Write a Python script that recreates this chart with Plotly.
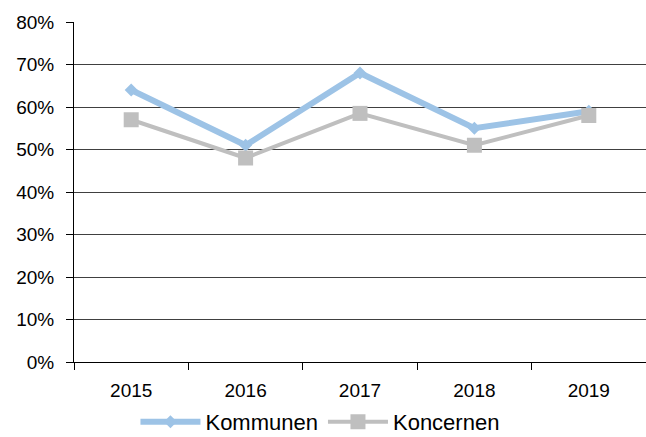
import plotly.graph_objects as go

years = ["2015", "2016", "2017", "2018", "2019"]
kommunen = [0.64, 0.51, 0.68, 0.55, 0.59]
koncernen = [0.57, 0.48, 0.585, 0.51, 0.58]
y_ticks = [0, 0.1, 0.2, 0.3, 0.4, 0.5, 0.6, 0.7, 0.8]
y_labels = ["0%", "10%", "20%", "30%", "40%", "50%", "60%", "70%", "80%"]

fig = go.Figure()
fig.add_trace(go.Scatter(
    x=years, y=kommunen, name="Kommunen", mode="lines+markers",
    line=dict(color="#9DC3E6", width=6),
    marker=dict(symbol="diamond", size=10, color="#9DC3E6"),
))
fig.add_trace(go.Scatter(
    x=years, y=koncernen, name="Koncernen", mode="lines+markers",
    line=dict(color="#BFBFBF", width=4),
    marker=dict(symbol="square", size=15, color="#BFBFBF"),
))

fig.update_layout(
    width=646, height=437,
    margin=dict(l=74, r=0, t=22, b=75, autoexpand=False),
    paper_bgcolor="white", plot_bgcolor="white",
    font=dict(family="Liberation Sans, Arial, sans-serif", size=19, color="#000000"),
    showlegend=True,
    legend=dict(orientation="h", x=0.43, xanchor="center", y=-0.176, yanchor="middle",
                font=dict(size=22), itemwidth=60, tracegroupgap=0,
                bgcolor="rgba(0,0,0,0)"),
    hovermode=False,
)
fig.update_xaxes(
    type="category", range=[-0.5, 4.5],
    showline=True, linecolor="#000000", linewidth=1,
    ticks="outside", tickson="boundaries", ticklen=7, tickcolor="#000000",
    showgrid=False, zeroline=False, automargin=False,
    tickfont=dict(size=19), ticklabelstandoff=11,
)
fig.update_yaxes(
    range=[0, 0.8], tickvals=y_ticks, ticktext=y_labels,
    showline=True, linecolor="#000000", linewidth=1,
    ticks="outside", ticklen=7, tickcolor="#000000",
    showgrid=True, gridcolor="#404040", gridwidth=1,
    zeroline=False, ticklabelstandoff=8, automargin=False,
    tickfont=dict(size=19),
)

fig.write_html(
    "out.html",
    config={"displayModeBar": False},
    post_script="document.body.style.margin='0';document.body.style.overflow='hidden';",
)
